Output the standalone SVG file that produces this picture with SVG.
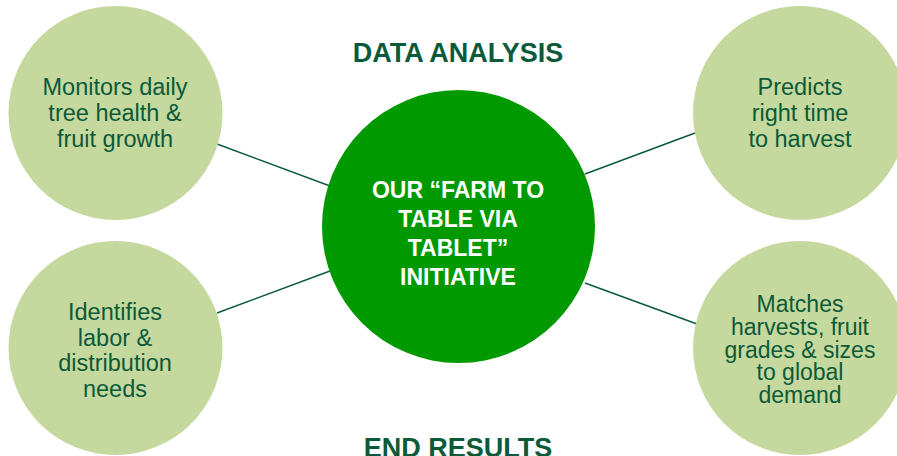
<svg xmlns="http://www.w3.org/2000/svg" width="897" height="456" viewBox="0 0 897 456">
<style>
.outer{fill:#C5D89D;}
.center{fill:#009900;}
.lbl{font-family:"Liberation Sans",Arial,sans-serif;font-size:23.5px;fill:#0B5A3A;text-anchor:middle;}
.tight{font-size:23px;}
.clbl{font-family:"Liberation Sans",Arial,sans-serif;font-size:23px;font-weight:bold;fill:#FFFFFF;text-anchor:middle;}
.head{font-family:"Liberation Sans",Arial,sans-serif;font-size:27px;font-weight:bold;fill:#0B5A3A;text-anchor:middle;}
.conn{stroke:#0B5A3A;stroke-width:1.5;fill:none;}
</style>
<rect width="897" height="456" fill="#FFFFFF"/>
<g id="connectors">
<line class="conn" x1="217" y1="144" x2="330" y2="186"/>
<line class="conn" x1="217" y1="313" x2="330" y2="271"/>
<line class="conn" x1="585" y1="174" x2="695" y2="133"/>
<line class="conn" x1="585" y1="283" x2="697" y2="324"/>
</g>
<g id="node-monitors">
<circle class="outer" cx="115.5" cy="113" r="107"/>
<text class="lbl"><tspan x="115" y="95">Monitors daily</tspan><tspan x="115" y="121">tree health &amp;</tspan><tspan x="115" y="147">fruit growth</tspan></text>
</g>
<g id="node-identifies">
<circle class="outer" cx="115.5" cy="348" r="107"/>
<text class="lbl"><tspan x="115" y="320">Identifies</tspan><tspan x="115" y="346">labor &amp;</tspan><tspan x="115" y="371">distribution</tspan><tspan x="115" y="397">needs</tspan></text>
</g>
<g id="node-predicts">
<circle class="outer" cx="800" cy="113" r="107"/>
<text class="lbl"><tspan x="800" y="95">Predicts</tspan><tspan x="800" y="121">right time</tspan><tspan x="800" y="147">to harvest</tspan></text>
</g>
<g id="node-matches">
<circle class="outer" cx="800" cy="348" r="107"/>
<text class="lbl tight"><tspan x="800" y="312">Matches</tspan><tspan x="800" y="335">harvests, fruit</tspan><tspan x="800" y="358">grades &amp; sizes</tspan><tspan x="800" y="380">to global</tspan><tspan x="800" y="403">demand</tspan></text>
</g>
<g id="node-center">
<circle class="center" cx="458.5" cy="226.5" r="136.5"/>
<text class="clbl"><tspan x="458" y="198">OUR “FARM TO</tspan><tspan x="458" y="227">TABLE VIA</tspan><tspan x="458" y="256">TABLET”</tspan><tspan x="458" y="285">INITIATIVE</tspan></text>
</g>
<g id="heading-data">
<text class="head" x="458" y="62">DATA ANALYSIS</text>
</g>
<g id="heading-end">
<text class="head" x="458" y="457">END RESULTS</text>
</g>
</svg>
